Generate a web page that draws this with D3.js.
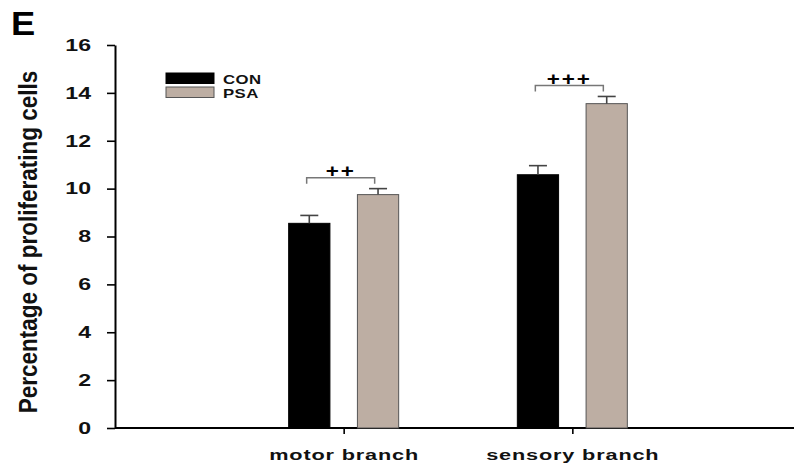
<!DOCTYPE html>
<html>
<head>
<meta charset="utf-8">
<script src="https://cdn.jsdelivr.net/npm/d3@7"></script>
<style>
  body { margin: 0; background: #fff; }
  text { font-family: "Liberation Sans", Arial, sans-serif; font-weight: bold; }
</style>
</head>
<body>
<div id="chart"></div>
<script>
// data
var categories = ["motor branch", "sensory branch"];
var groups = ["CON", "PSA"];
var conValues = [8.55, 10.58];
var psaValues = [9.75, 13.55];
var conErrors = [0.33, 0.38];
var psaErrors = [0.25, 0.3];
var signifMarks = ["++", "+++"];
var yTicks = [0, 2, 4, 6, 8, 10, 12, 14, 16];

var colors = { CON: "#000000", PSA: "#bdaea3" };

// the original figure is stretched sideways, so text gets a horizontal scale
var stretch = 1.4;

var W = 794, H = 464;
var margin = { top: 45, right: 0, bottom: 36, left: 115 };
var height = H - margin.top - margin.bottom;

var svg = d3.select("#chart").append("svg")
  .attr("width", W)
  .attr("height", H);

// rows for the bars
var rows = [];
categories.forEach(function (c, i) {
  rows.push({ cat: c, group: "CON", value: conValues[i], err: conErrors[i] });
  rows.push({ cat: c, group: "PSA", value: psaValues[i], err: psaErrors[i] });
});

var x = d3.scalePoint()
  .domain(categories)
  .range([margin.left, 801])
  .padding(1);

var xInner = d3.scaleBand()
  .domain(groups)
  .range([-55, 55])
  .paddingInner(0.4);

var y = d3.scaleLinear()
  .domain([0, 16])
  .range([margin.top + height, margin.top]);

// Y axis
var yAxis = svg.append("g")
  .attr("transform", "translate(" + margin.left + ",0)")
  .call(d3.axisLeft(y).tickValues(yTicks).tickSize(8).tickSizeOuter(0));
yAxis.select(".domain").attr("stroke-width", 2);
yAxis.selectAll(".tick line").attr("stroke-width", 1.6);
yAxis.selectAll(".tick text")
  .attr("x", 0)
  .attr("transform", "translate(-24,0) scale(" + stretch + ",1)")
  .style("font-size", "16.5px")
  .attr("fill", "#111");

// X axis
var xAxis = svg.append("g")
  .attr("transform", "translate(0," + y(0) + ")")
  .call(d3.axisBottom(x).tickSize(6).tickSizeOuter(0));
xAxis.select(".domain").attr("stroke-width", 2).attr("d", "M" + margin.left + ",0H" + W);
xAxis.selectAll(".tick line").attr("stroke-width", 1.6);
xAxis.selectAll(".tick text")
  .attr("y", 0)
  .attr("dy", null)
  .attr("transform", "translate(0,32) scale(" + stretch + ",1)")
  .style("font-size", "15.5px")
  .style("letter-spacing", "0.6px")
  .attr("fill", "#111");

// bars
svg.append("g").selectAll("rect")
  .data(rows)
  .join("rect")
    .attr("x", d => x(d.cat) + xInner(d.group))
    .attr("y", d => y(d.value))
    .attr("width", xInner.bandwidth())
    .attr("height", d => y(0) - y(d.value))
    .attr("fill", d => colors[d.group])
    .attr("stroke", d => d.group === "PSA" ? "#555" : "#000")
    .attr("stroke-width", 1);

// error bars (upper only)
var eb = svg.append("g")
  .attr("stroke", "#444")
  .attr("stroke-width", 1.6);
rows.forEach(function (d) {
  var cx = x(d.cat) + xInner(d.group) + xInner.bandwidth() / 2;
  eb.append("line")
    .attr("x1", cx).attr("x2", cx)
    .attr("y1", y(d.value)).attr("y2", y(d.value + d.err));
  eb.append("line")
    .attr("x1", cx - 9).attr("x2", cx + 9)
    .attr("y1", y(d.value + d.err)).attr("y2", y(d.value + d.err));
});

// significance brackets
categories.forEach(function (c, i) {
  var top = y(psaValues[i] + psaErrors[i]) - 11;
  var x1 = x(c) - 37, x2 = x(c) + 31;
  svg.append("path")
    .attr("d", "M" + x1 + "," + (top + 6) + "V" + top + "H" + x2 + "V" + (top + 6))
    .attr("fill", "none")
    .attr("stroke", "#777")
    .attr("stroke-width", 1.5);
  svg.append("text")
    .attr("transform", "translate(" + ((x1 + x2) / 2) + "," + (top - 0.5) + ") scale(1.25,1)")
    .attr("text-anchor", "middle")
    .style("font-size", "18px")
    .style("letter-spacing", "1.5px")
    .text(signifMarks[i]);
});

// legend
var legend = svg.append("g").attr("transform", "translate(166,73)");
groups.forEach(function (g, i) {
  legend.append("rect")
    .attr("x", 0).attr("y", i * 14)
    .attr("width", 48).attr("height", 10.5)
    .attr("fill", colors[g])
    .attr("stroke", g === "PSA" ? "#555" : "#000")
    .attr("stroke-width", 1);
  legend.append("text")
    .attr("transform", "translate(57," + (i * 14 + 10.8) + ") scale(" + stretch + ",1)")
    .style("font-size", "12px")
    .style("letter-spacing", "0.3px")
    .attr("fill", "#111")
    .text(g);
});

// y title
svg.append("text")
  .attr("transform", "translate(37,242) scale(1.15,1) rotate(-90)")
  .attr("text-anchor", "middle")
  .style("font-size", "22.5px")
  .attr("fill", "#111")
  .text("Percentage of proliferating cells");

// panel letter
svg.append("text")
  .attr("transform", "translate(11,34.5) scale(1.1,1)")
  .style("font-size", "33px")
  .text("E");
</script>
</body>
</html>
